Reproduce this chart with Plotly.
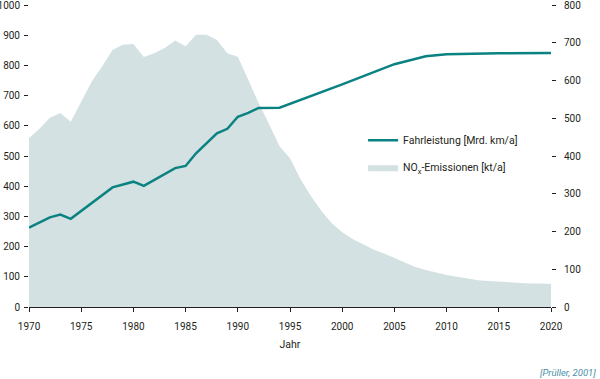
import plotly.graph_objects as go

# NOx emissions [kt/a] (right axis, 0-800)
nox_years = list(range(1970, 2021))
nox_values = [448, 472, 501, 514, 491, 544, 597, 637, 681, 695,
              697, 662, 672, 686, 706, 691, 721, 721, 707, 672,
              663, 602, 540, 484, 426, 394, 339, 294, 255, 222,
              198, 180, 167, 152, 142, 130, 118, 106, 98, 91,
              85, 80, 76, 71, 69, 67, 66, 64, 62, 62, 61]

# Fahrleistung [Mrd. km/a] (left axis, 0-1000)
fl_years = [1970, 1972, 1973, 1974, 1978, 1980, 1981, 1984, 1985, 1986,
            1988, 1989, 1990, 1991, 1992, 1994, 2000, 2005, 2008, 2010, 2015, 2020]
fl_values = [263, 297, 306, 292, 396, 415, 401, 460, 467, 509,
             575, 590, 630, 643, 659, 660, 737, 804, 830, 837, 840, 841]

x_ticks = list(range(1970, 2021, 5))
left_ticks = list(range(0, 1001, 100))
right_ticks = list(range(0, 801, 100))

FONT = "Roboto, 'Liberation Sans Narrow', sans-serif"
TXT = "#231f20"
TEAL = "#0b8282"
AREA = "#d3e1e2"

fig = go.Figure()
fig.add_trace(go.Scatter(
    x=nox_years, y=nox_values, mode="lines", fill="tozeroy",
    fillcolor=AREA, line=dict(width=0, color=AREA),
    name="NO<sub>x</sub>-Emissionen [kt/a]", yaxis="y", legendgroup="b", legendrank=2))
fig.add_trace(go.Scatter(
    x=fl_years, y=fl_values, mode="lines",
    line=dict(width=2.5, color=TEAL),
    name="Fahrleistung [Mrd. km/a]", yaxis="y2", legendgroup="a", legendrank=1))

tickfont = dict(family=FONT, size=10, color=TXT)

fig.update_layout(
    width=600, height=379,
    margin=dict(l=29, r=49, t=5, b=72, autoexpand=False),
    paper_bgcolor="white", plot_bgcolor="white",
    font=dict(family=FONT, size=10.5, color=TXT),
    showlegend=True,
    legend=dict(x=0.64, y=0.6, xanchor="left", yanchor="top",
                bgcolor="rgba(0,0,0,0)", font=dict(family=FONT, size=10.5, color=TXT),
                tracegroupgap=8, traceorder="grouped", itemwidth=30),
    xaxis=dict(range=[1970, 2020], tickvals=x_ticks, ticks="outside", ticklen=4,
               tickwidth=1, tickcolor=TXT, showline=True, linecolor=TXT, linewidth=1,
               showgrid=False, zeroline=False, tickfont=tickfont, automargin=False,
               ticklabelstandoff=6,
               title=dict(text="Jahr", font=dict(family=FONT, size=10.5, color=TXT), standoff=9)),
    xaxis2=dict(range=[1970, 2020], tickvals=x_ticks, ticks="inside", ticklen=4,
                tickwidth=1, tickcolor=TXT, overlaying="x", anchor="y", automargin=False,
                showticklabels=False, showgrid=False, zeroline=False, showline=False),
    yaxis=dict(side="right", range=[0, 800], tickvals=right_ticks, ticks="outside",
               ticklen=4, tickwidth=1.3, tickcolor=TXT, showgrid=False, zeroline=False,
               showline=False, tickfont=tickfont, ticklabelstandoff=6, automargin=False,
               ticklabeloverflow="allow"),
    yaxis2=dict(side="left", overlaying="y", range=[0, 1000], tickvals=left_ticks,
                ticks="outside", ticklen=4, tickwidth=1.3, tickcolor=TXT, showgrid=False,
                zeroline=False, showline=False, tickfont=tickfont, ticklabelstandoff=2,
                automargin=False, ticklabeloverflow="allow"),
    yaxis3=dict(side="left", overlaying="y", range=[0, 1000], tickvals=left_ticks,
                ticks="inside", ticklen=4, tickwidth=1.3, tickcolor=TXT, showgrid=False,
                zeroline=False, showline=False, showticklabels=False, automargin=False),
    yaxis4=dict(side="right", overlaying="y", range=[0, 800], tickvals=right_ticks,
                ticks="inside", ticklen=4, tickwidth=1.3, tickcolor=TXT, showgrid=False,
                zeroline=False, showline=False, showticklabels=False, automargin=False),
    annotations=[dict(text="<i>[Prüller, 2001]</i>", xref="paper", yref="paper",
                      x=1.0, y=0, xanchor="right", yanchor="middle",
                      xshift=47, yshift=-65, showarrow=False,
                      font=dict(family=FONT, size=9.5, color="#4a90a8"))],
)

fig.write_html("out.html", config={"displayModeBar": False},
               post_script="document.body.style.margin='0';")
